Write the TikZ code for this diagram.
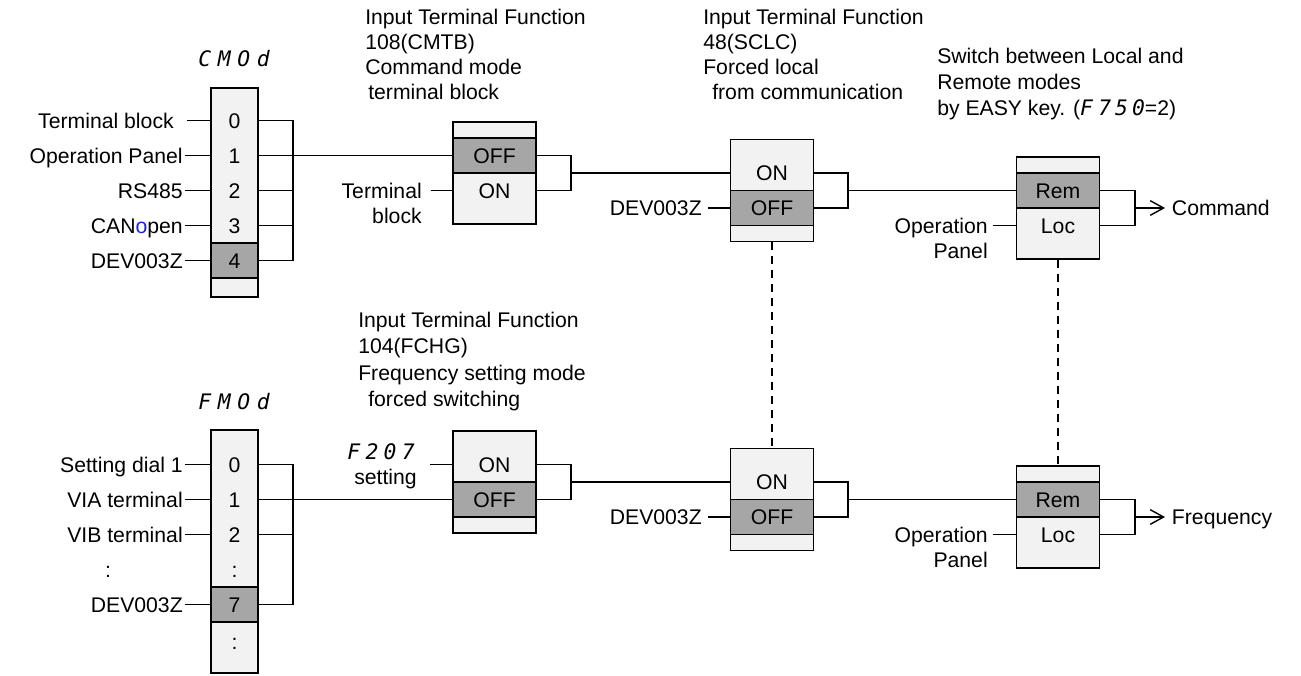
\documentclass[tikz,border=0pt]{standalone}
\usepackage{fontspec}
\setmainfont{Liberation Sans}
\newfontfamily\segfont{DejaVu Sans Mono}
\usetikzlibrary{arrows.meta}
\definecolor{lt}{HTML}{F2F2F2}
\definecolor{dk}{HTML}{A6A6A6}
\definecolor{cblue}{HTML}{1F1FE6}
\newcommand{\segtext}[1]{{\segfont\itshape\fontsize{16}{18}\selectfont #1}}
\begin{document}
\begin{tikzpicture}[x=0.75pt,y=-0.75pt,
  every node/.style={font=\fontsize{15.9}{19}\selectfont, inner sep=0pt, text height=11.4pt, text depth=0pt},
  conn/.style={line width=1.05pt},
  dsh/.style={line width=1pt, dash pattern=on 6pt off 4.5pt},
  boxo/.style={draw, fill=lt, line width=1.2pt, minimum width=35.25pt},
  swbox/.style={draw, fill=lt, line width=1.2pt, minimum width=62.25pt, minimum height=76.5pt},
  crow/.style={minimum width=35.25pt, minimum height=26.25pt},
  cdark/.style={crow, draw, fill=dk, line width=1.2pt},
  srow/.style={minimum width=62.25pt, minimum height=26.25pt},
  sdark/.style={srow, draw, fill=dk, line width=1.2pt},
  lab/.style={anchor=east, inner xsep=1.5pt},
  hdr/.style={anchor=base west},
  outtxt/.style={anchor=west, inner xsep=5pt},
  arr/.style={conn, -{Straight Barb[length=10pt,width=11pt]}}]
\useasboundingbox (0,0) rectangle (1301,675);

% ---------------- headers ----------------
\node[hdr] (h1a) at (365,24) {Input Terminal Function};
\node[hdr] (h1b) at (365,49) {108(CMTB)};
\node[hdr] (h1c) at (365,74) {Command mode};
\node[hdr] (h1d) at (368,99) {terminal block};
\node[hdr] (h2a) at (703,24) {Input Terminal Function};
\node[hdr] (h2b) at (703,49) {48(SCLC)};
\node[hdr] (h2c) at (703,74) {Forced local};
\node[hdr] (h2d) at (712,99) {from communication};
\node[hdr] (h3a) at (937,63) {Switch between Local and};
\node[hdr] (h3b) at (937,89) {Remote modes};
\node[hdr] (h3c) at (937,115) {by EASY key. (\segtext{F\kern4pt 7\kern3pt 5\kern3pt 0}=2)};
\node[hdr] (h4a) at (358,327) {Input Terminal Function};
\node[hdr] (h4b) at (358,353) {104(FCHG)};
\node[hdr] (h4c) at (358,380) {Frequency setting mode};
\node[hdr] (h4d) at (368,406) {forced switching};

% ---------------- CMOd selector ----------------
\node (cmod) at (234,59) {\segtext{C\kern5pt M\kern5pt O\kern5pt d}};
\node[boxo, minimum height=156.75pt] (cbox) at (234.5,192.5) {};
\node[crow] (c0) at (234.5,120.5) {0};
\node[crow] (c1) at (234.5,155.5) {1};
\node[crow] (c2) at (234.5,190.5) {2};
\node[crow] (c3) at (234.5,225.5) {3};
\node[cdark] (c4) at (234.5,260.5) {4};
\node[lab] (l0) at (176,120.5) {Terminal block};
\node[lab] (l1) at (185,155.5) {Operation Panel};
\node[lab] (l2) at (185,190.5) {RS485};
\node[lab] (l3) at (185,225.5) {CAN{\color{cblue}o}pen};
\node[lab] (l4) at (185,260.5) {DEV003Z};
\draw[conn] ([xshift=8pt]l0.east) -- (c0.west);
\draw[conn] (l1.east) -- (c1.west);
\draw[conn] (l2.east) -- (c2.west);
\draw[conn] (l3.east) -- (c3.west);
\draw[conn] (l4.east) -- (c4.west);
\coordinate (cbt) at (293,120.5);
\coordinate (cbb) at (293,260.5);
\draw[conn] (c0.east) -- (cbt) -- (cbb) -- (c4.east);
\draw[conn] (c2.east) -- (c2.east -| cbt);
\draw[conn] (c3.east) -- (c3.east -| cbt);

% ---------------- switch 1 (CMTB) ----------------
\node[swbox] (s1) at (494.5,173) {};
\node[sdark] (s1a) at (494.5,155.5) {OFF};
\node[srow] (s1b) at (494.5,190.5) {ON};
\node[lab] (tb1) at (424,190.5) {Terminal};
\node[lab] (tb2) at (424,216) {block};
\draw[conn] (c1.east) -- (s1a.west);
\draw[conn] ([xshift=5pt]tb1.east) -- (s1b.west);
\coordinate (m1) at (571,173);
\draw[conn] (s1a.east) -| (m1) |- (s1b.east);

% ---------------- switch 2 (SCLC) ----------------
\node[swbox] (s2) at (772,190.5) {};
\node[srow] (s2a) at (772,173) {ON};
\node[sdark] (s2b) at (772,208) {OFF};
\node[lab] (d1) at (704,208) {DEV003Z};
\draw[conn] (m1) -- (s2a.west);
\draw[conn] ([xshift=3pt]d1.east) -- (s2b.west);
\coordinate (m2) at (848,190.5);
\draw[conn] (s2a.east) -| (m2) |- (s2b.east);

% ---------------- switch 3 (Rem/Loc) ----------------
\node[swbox] (s3) at (1058,208) {};
\node[sdark] (s3a) at (1058,190.5) {Rem};
\node[srow] (s3b) at (1058,225.5) {Loc};
\node[lab] (op1) at (990,225.5) {Operation};
\node[lab] (op1b) at (990,251) {Panel};
\draw[conn] (m2) -- (s3a.west);
\draw[conn] ([xshift=2pt]op1.east) -- (s3b.west);
\coordinate (m3) at (1135,208);
\draw[conn] (s3a.east) -| (m3) |- (s3b.east);
\node[outtxt] (cmd) at (1165,208) {Command};
\draw[arr] (m3) -- (cmd.west);

% ---------------- FMOd selector ----------------
\node (fmod) at (234,401.5) {\segtext{F\kern5pt M\kern5pt O\kern5pt d}};
\node[boxo, minimum height=182.25pt] (fbox) at (234.5,551.5) {};
\node[crow] (f0) at (234.5,464.5) {0};
\node[crow] (f1) at (234.5,499.5) {1};
\node[crow] (f2) at (234.5,534.5) {2};
\node[crow] (fd) at (234.5,569.5) {:};
\node[cdark] (f7) at (234.5,604.5) {7};
\node[crow] (fe) at (234.5,642) {:};
\node[lab] (g0) at (185,464.5) {Setting dial 1};
\node[lab] (g1) at (185,499.5) {VIA terminal};
\node[lab] (g2) at (185,534.5) {VIB terminal};
\node (gd) at (108,569.5) {:};
\node[lab] (g7) at (185,604.5) {DEV003Z};
\draw[conn] (g0.east) -- (f0.west);
\draw[conn] (g1.east) -- (f1.west);
\draw[conn] (g2.east) -- (f2.west);
\draw[conn] (g7.east) -- (f7.west);
\coordinate (fbt) at (293,464.5);
\coordinate (fbb) at (293,604.5);
\draw[conn] (f0.east) -- (fbt) -- (fbb) -- (f7.east);
\draw[conn] (f2.east) -- (f2.east -| fbt);

% ---------------- switch 4 (FCHG) ----------------
\node[swbox] (s4) at (494.5,482) {};
\node[srow] (s4a) at (494.5,464.5) {ON};
\node[sdark] (s4b) at (494.5,499.5) {OFF};
\node[lab] (f207) at (417,452) {\segtext{F\kern4pt 2\kern4pt 0\kern4pt 7}};
\node[lab] (fset) at (419,477) {setting};
\coordinate (fs) at (430,464.5);
\draw[conn] (fs) -- (s4a.west);
\draw[conn] (f1.east) -- (s4b.west);
\coordinate (m4) at (571,482);
\draw[conn] (s4a.east) -| (m4) |- (s4b.east);

% ---------------- switch 5 ----------------
\node[swbox] (s5) at (772,499.5) {};
\node[srow] (s5a) at (772,482) {ON};
\node[sdark] (s5b) at (772,517) {OFF};
\node[lab] (d2) at (704,517) {DEV003Z};
\draw[conn] (m4) -- (s5a.west);
\draw[conn] ([xshift=3pt]d2.east) -- (s5b.west);
\coordinate (m5) at (848,499.5);
\draw[conn] (s5a.east) -| (m5) |- (s5b.east);

% ---------------- switch 6 ----------------
\node[swbox] (s6) at (1058,517) {};
\node[sdark] (s6a) at (1058,499.5) {Rem};
\node[srow] (s6b) at (1058,534.5) {Loc};
\node[lab] (op2) at (990,534.5) {Operation};
\node[lab] (op2b) at (990,560) {Panel};
\draw[conn] (m5) -- (s6a.west);
\draw[conn] ([xshift=2pt]op2.east) -- (s6b.west);
\coordinate (m6) at (1135,517);
\draw[conn] (s6a.east) -| (m6) |- (s6b.east);
\node[outtxt] (frq) at (1165,517) {Frequency};
\draw[arr] (m6) -- (frq.west);

% ---------------- linkage (dashed) ----------------
\draw[dsh] (s2.south) -- (s5.north);
\draw[dsh] (s3.south) -- (s6.north);
\end{tikzpicture}
\end{document}
